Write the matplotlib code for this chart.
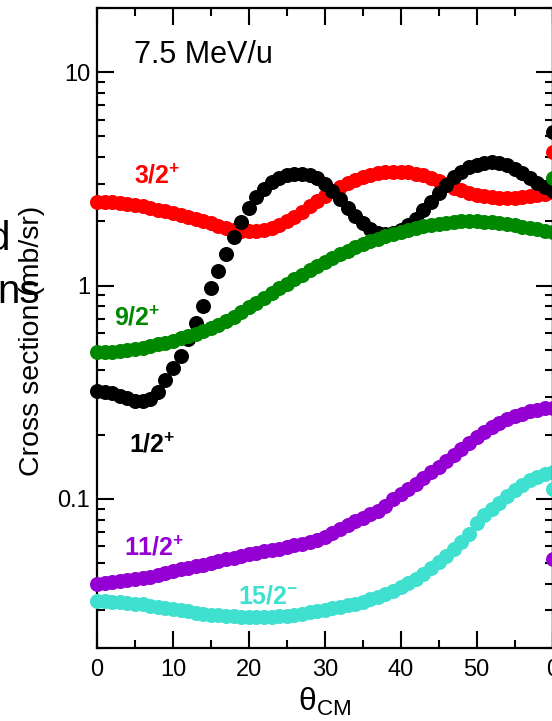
import matplotlib
matplotlib.use("Agg")
import matplotlib.pyplot as plt
from matplotlib.ticker import FixedLocator, FixedFormatter, LogLocator, NullFormatter

plt.rcParams['font.family'] = ['Liberation Sans', 'DejaVu Sans']
plt.rcParams['mathtext.fontset'] = 'custom'
plt.rcParams['mathtext.rm'] = 'Liberation Sans'
plt.rcParams['mathtext.bf'] = 'Liberation Sans:bold'
plt.rcParams['mathtext.it'] = 'Liberation Sans:italic'

# ---- data: angular distributions, 7.5 MeV/u ----
theta = list(range(0, 61))

xs_3_2p = [2.47, 2.47, 2.46, 2.44, 2.41, 2.38, 2.35, 2.31, 2.27, 2.23,
           2.19, 2.14, 2.10, 2.05, 2.00, 1.96, 1.91, 1.87, 1.83, 1.81,
           1.80, 1.81, 1.83, 1.87, 1.93, 2.00, 2.10, 2.22, 2.36, 2.50,
           2.64, 2.78, 2.91, 3.03, 3.13, 3.22, 3.30, 3.36, 3.40, 3.42,
           3.42, 3.40, 3.35, 3.28, 3.19, 3.09, 2.98, 2.88, 2.79, 2.72,
           2.66, 2.62, 2.59, 2.57, 2.57, 2.58, 2.60, 2.63, 2.66, 2.70,
           2.74]

xs_1_2p = [0.320, 0.318, 0.313, 0.305, 0.296, 0.289, 0.287, 0.295, 0.318, 0.36,
           0.41, 0.47, 0.56, 0.67, 0.80, 0.97, 1.17, 1.40, 1.68, 1.98,
           2.30, 2.60, 2.85, 3.05, 3.20, 3.30, 3.35, 3.35, 3.30, 3.18,
           3.00, 2.78, 2.55, 2.32, 2.12, 1.96, 1.84, 1.77, 1.75, 1.77,
           1.82, 1.92, 2.06, 2.25, 2.47, 2.72, 2.97, 3.21, 3.42, 3.58,
           3.69, 3.76, 3.78, 3.75, 3.66, 3.53, 3.37, 3.20, 3.04, 2.90,
           2.78]

xs_9_2p = [0.49, 0.49, 0.49, 0.495, 0.50, 0.505, 0.51, 0.52, 0.53, 0.54,
           0.55, 0.565, 0.58, 0.595, 0.61, 0.63, 0.655, 0.68, 0.71, 0.75,
           0.79, 0.83, 0.87, 0.92, 0.97, 1.02, 1.07, 1.12, 1.18, 1.23,
           1.29, 1.34, 1.40, 1.45, 1.51, 1.56, 1.61, 1.66, 1.70, 1.75,
           1.79, 1.83, 1.87, 1.90, 1.93, 1.95, 1.97, 1.99, 2.00, 2.00,
           2.00, 1.99, 1.98, 1.96, 1.94, 1.92, 1.89, 1.87, 1.84, 1.81,
           1.79]

xs_11_2p = [0.0398, 0.0402, 0.0406, 0.0410, 0.0415, 0.0420, 0.0425, 0.0430, 0.0440, 0.0450,
            0.0458, 0.0467, 0.0475, 0.0483, 0.0492, 0.0500, 0.0510, 0.0520, 0.0530, 0.0540,
            0.0550, 0.0558, 0.0567, 0.0576, 0.0585, 0.0595, 0.0605, 0.0617, 0.0630, 0.0645,
            0.0660, 0.0690, 0.0720, 0.0755, 0.0785, 0.0815, 0.0845, 0.0880, 0.0930, 0.1000,
            0.105, 0.111, 0.118, 0.125, 0.133, 0.141, 0.150, 0.160, 0.171, 0.182,
            0.195, 0.206, 0.217, 0.227, 0.236, 0.244, 0.251, 0.257, 0.262, 0.266,
            0.268]

xs_15_2m = [0.0331, 0.0331, 0.0330, 0.0328, 0.0326, 0.0323, 0.0320, 0.0316, 0.0312, 0.0308,
            0.0304, 0.0300, 0.0297, 0.0293, 0.0290, 0.0287, 0.0285, 0.0283, 0.0281, 0.0280,
            0.0279, 0.0279, 0.0279, 0.0280, 0.0282, 0.0284, 0.0287, 0.0290, 0.0294, 0.0298,
            0.0302, 0.0307, 0.0312, 0.0317, 0.0323, 0.0330, 0.0338, 0.0346, 0.0357, 0.0370,
            0.0385, 0.0402, 0.0422, 0.0446, 0.0474, 0.0505, 0.0540, 0.0582, 0.0630, 0.0685,
            0.0770, 0.0840, 0.0900, 0.0960, 0.103, 0.110, 0.116, 0.122, 0.127, 0.131,
            0.134]

# neighbouring panel, forward-angle points
theta_next = [0]
next_1_2p = [5.26]
next_3_2p = [4.24]
next_9_2p = [3.20]
next_15_2m = [0.111]
next_11_2p = [0.052]

series = [
    (xs_3_2p, next_3_2p, '#ff0000'),
    (xs_1_2p, next_1_2p, '#000000'),
    (xs_9_2p, next_9_2p, '#008800'),
    (xs_11_2p, next_11_2p, '#9400d3'),
    (xs_15_2m, next_15_2m, '#40e0d0'),
]

x_major = [0, 10, 20, 30, 40, 50, 60]
x_minor = [5, 15, 25, 35, 45, 55]
x_labels = ['0', '10', '20', '30', '40', '50', '']
y_major = [0.1, 1, 10]
y_labels = ['0.1', '1', '10']

W, H = 552, 721
fig = plt.figure(figsize=(W / 100, H / 100), dpi=100)


def style_axes(ax, xlabels, ylabels):
    ax.set_yscale('log')
    ax.set_ylim(0.02, 20)
    ax.set_xlim(0, 60)
    ax.xaxis.set_major_locator(FixedLocator(x_major))
    ax.xaxis.set_minor_locator(FixedLocator(x_minor))
    ax.xaxis.set_major_formatter(FixedFormatter(xlabels))
    ax.yaxis.set_major_locator(FixedLocator(y_major))
    ax.yaxis.set_minor_locator(LogLocator(base=10, subs=range(2, 10)))
    ax.yaxis.set_major_formatter(FixedFormatter(ylabels))
    ax.yaxis.set_minor_formatter(NullFormatter())
    ax.tick_params(which='both', direction='in', top=True, right=True,
                   width=1.5, labelsize=17, color='black')
    ax.tick_params(which='major', length=12)
    ax.tick_params(axis='x', which='major', pad=8)
    ax.tick_params(axis='y', which='major', pad=5)
    ax.tick_params(which='minor', length=6)
    for sp in ax.spines.values():
        sp.set_linewidth(1.6)


bottom = 1 - 648 / H
height = (648 - 8) / H
MS = 10.8
ax = fig.add_axes([97 / W, bottom, (552.5 - 97) / W, height])
style_axes(ax, x_labels, y_labels)
for vals, _, col in series:
    ax.plot(theta, vals, 'o', ms=MS, color=col, mew=0, clip_on=False, zorder=3)

ax2 = fig.add_axes([552.5 / W, bottom, 0.8, height])
style_axes(ax2, ['0', '10', '20', '30', '40', '50', '60'], ['', '', ''])
ax2.tick_params(labelleft=False)
for _, vals, col in series:
    ax2.plot(theta_next, vals, 'o', ms=MS, color=col, mew=0, clip_on=False, zorder=3)


def px(x, y):
    return x / W, 1 - y / H


# state labels
fig.text(*px(134, 184), r'$\mathbf{3/2^{+}}$', color='#ff0000', fontsize=18, va='baseline')
fig.text(*px(114, 326), r'$\mathbf{9/2^{+}}$', color='#008800', fontsize=18, va='baseline')
fig.text(*px(129, 452), r'$\mathbf{1/2^{+}}$', color='#000000', fontsize=18, va='baseline')
fig.text(*px(124, 556), r'$\mathbf{11/2^{+}}$', color='#9400d3', fontsize=18, va='baseline')
fig.text(*px(238, 604), r'$\mathbf{15/2^{-}}$', color='#40e0d0', fontsize=18, va='baseline')

fig.text(*px(134, 63), '7.5 MeV/u', fontsize=22, va='baseline')

fig.text(*px(32, 341), 'Cross section (mb/sr)', rotation=90, fontsize=20.5,
         ha='center', va='center')
fig.text(*px(325, 711), r'$\mathrm{\theta_{CM}}$', fontsize=23, ha='center', va='baseline')

fig.text(*px(10, 250), 'd', fontsize=29, ha='right', va='baseline')
fig.text(*px(40, 303), 'ns', fontsize=29, ha='right', va='baseline')

fig.savefig('out.png', dpi=100)
